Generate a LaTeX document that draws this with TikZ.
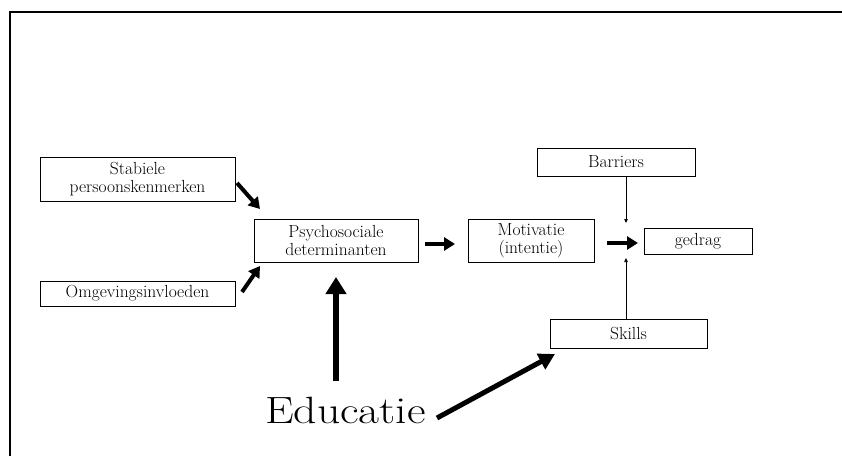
\documentclass[tikz,border=0pt]{standalone}
\usetikzlibrary{arrows.meta}
\begin{document}
\begin{tikzpicture}[x=1pt,y=1pt,
  box/.style={draw=black,line width=0.8pt,inner sep=0pt,align=center,font=\fontsize{17.5}{17.5}\selectfont},
  thick arrow/.style={line width=4pt,-{Triangle[length=11pt,width=13pt]}},
  big arrow/.style={line width=6pt,-{Triangle[length=17pt,width=20pt]}},
  mid arrow/.style={line width=5pt,-{Triangle[length=16pt,width=17pt]}},
  thin arrow/.style={line width=0.7pt,-{Triangle[length=4pt,width=3.5pt]}}]
\useasboundingbox (0,0) rectangle (842,456);
\draw[line width=2pt] (10,0) -- (10,444) -- (842,444);
\node[box,minimum width=195pt,minimum height=44pt] (stab) at (137.5,277) {Stabiele\\persoonskenmerken};
\node[box,minimum width=195pt,minimum height=25pt] (omg) at (137.5,162.5) {Omgevingsinvloeden};
\node[box,minimum width=164pt,minimum height=43pt] (psy) at (336,215.5) {Psychosociale\\determinanten};
\node[box,minimum width=126pt,minimum height=43pt] (mot) at (531,215.5) {Motivatie\\(intentie)};
\node[box,minimum width=108pt,minimum height=26pt] (ged) at (698,215) {gedrag};
\node[box,minimum width=158pt,minimum height=28pt] (bar) at (616,294) {Barriers};
\node[box,minimum width=157pt,minimum height=29pt] (sk) at (628.5,122.5) {Skills};
\node[inner sep=0pt,anchor=base] (edu) at (345.5,33) {\scalebox{1.2}[1]{\fontsize{38}{42}\selectfont Educatie}};
\coordinate (a1s) at (237,273);
\coordinate (a1e) at (260,247);
\coordinate (a2s) at (242,164);
\coordinate (a2e) at (260,190);
\coordinate (a3s) at (425,212);
\coordinate (a3e) at (455,212);
\coordinate (a4s) at (607,213);
\coordinate (a4e) at (638,213);
\coordinate (a5e) at (626,233);
\coordinate (a6e) at (626,198);
\coordinate (a7s) at (336,75);
\coordinate (a7e) at (336,179);
\coordinate (a8s) at (437,38);
\coordinate (a8e) at (555,102);
\draw[thick arrow] (a1s) -- (a1e);
\draw[thick arrow] (a2s) -- (a2e);
\draw[thick arrow] (a3s) -- (a3e);
\draw[thick arrow] (a4s) -- (a4e);
\draw[thin arrow] (bar.south -| a5e) -- (a5e);
\draw[thin arrow] (sk.north -| a6e) -- (a6e);
\draw[big arrow] (a7s) -- (a7e);
\draw[mid arrow] (a8s) -- (a8e);
\end{tikzpicture}
\end{document}
